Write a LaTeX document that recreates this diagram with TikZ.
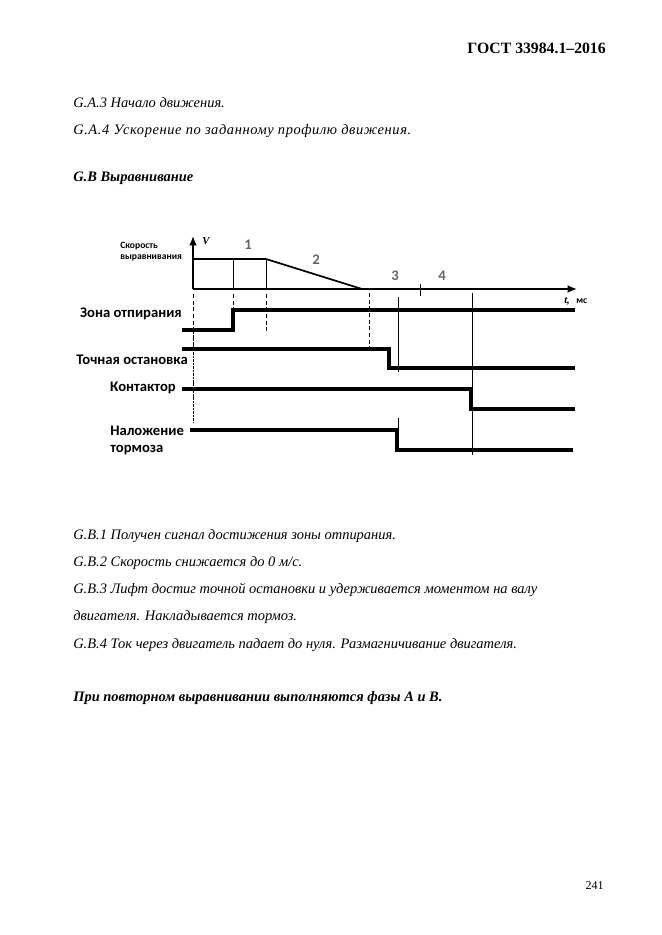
\documentclass[tikz,border=0pt]{standalone}
\usepackage{fontspec}
\setmainfont{Liberation Serif}
\newfontfamily\carl{Carlito}
\usetikzlibrary{arrows.meta}
\tikzset{
  sig/.style={line width=2.4pt},
  thinln/.style={line width=0.6pt},
  axisln/.style={line width=1.4pt},
  vdash/.style={line width=0.6pt, dash pattern=on 3pt off 2pt},
  vdense/.style={line width=0.6pt, dash pattern=on 2pt off 0.6pt},
  lbl/.style={font=\carl\bfseries\fontsize{11}{13}\selectfont, inner sep=0},
  small/.style={font=\carl\bfseries\fontsize{7.2}{8}\selectfont, inner sep=0, anchor=west},
  num/.style={font=\carl\bfseries\fontsize{11}{13}\selectfont, text=black!60, inner sep=0},
  body/.style={font=\itshape\fontsize{10.85}{13}\selectfont, anchor=base west, inner sep=0},
  bodyb/.style={font=\bfseries\itshape\fontsize{10.85}{13}\selectfont, anchor=base west, inner sep=0},
}
\begin{document}
\begin{tikzpicture}[x=0.75pt,y=-0.75pt]
\fill[white] (0,0) rectangle (661,935);
\useasboundingbox (0,0) rectangle (661,935);

% page text
\node[font=\bfseries\fontsize{11.8}{14}\selectfont, anchor=base east, inner sep=0] (hdr) at (606,53) {ГОСТ 33984.1–2016};
\node[body] (ga3) at (73,107) {G.A.3 Начало движения.};
\node[body] (ga4) at (73,134) {\addfontfeature{LetterSpace=4}G.A.4 Ускорение по заданному профилю движения.};
\node[bodyb] (gb) at (73,181) {G.B Выравнивание};
\node[body] (gb1) at (73,539) {G.B.1 Получен сигнал достижения зоны отпирания.};
\node[body] (gb2) at (73,566) {G.B.2 Скорость снижается до 0 м/с.};
\node[body] (gb3) at (73,593) {G.B.3 Лифт достиг точной остановки и удерживается моментом на валу};
\node[body] (gb3b) at (73,620) {двигателя. Накладывается тормоз.};
\node[body] (gb4) at (73,648) {G.B.4 Ток через двигатель падает до нуля. Размагничивание двигателя.};
\node[bodyb] (rep) at (73,701) {При повторном выравнивании выполняются фазы A и B.};
\node[font=\fontsize{9}{11}\selectfont, anchor=base east, inner sep=0] (pg) at (604,889) {241};

% axes
\coordinate (O) at (193,289);
\coordinate (Vtop) at (193,236);
\coordinate (Tend) at (577,289);
\draw[axisln,-{Latex[length=7pt,width=6pt]}] (O) -- (Vtop);
\draw[axisln,-{Latex[length=7pt,width=6pt]}] (O) -- (Tend);
\node[font=\bfseries\itshape\fontsize{8}{9}\selectfont, inner sep=0] (V) at (206,241) {V};
\node[font=\bfseries\itshape\fontsize{8}{9}\selectfont, inner sep=0, anchor=west] (tl) at (564,301) {t,};
\node[small] (ms) at (576,301) {мс};

% speed profile
\coordinate (s0) at (193,259);
\coordinate (s1) at (266,259);
\coordinate (s2) at (362,289);
\coordinate (s3) at (420,289);
\coordinate (s4) at (455,289);
\draw[line width=1.3pt] (s0) -- (s1) -- (s2);
\draw[line width=2pt] (s2) -- (s3);
\draw[line width=1.1pt] (s3) -- (s4);
\draw[thinln] (233,259) -- (233,289);
\draw[thinln] (266,259) -- (266,289);
\draw[thinln] (420,284) -- (420,296);
\node[small] (sk1) at (120,246) {Скорость};
\node[small] (sk2) at (120,258) {выравнивания};
\node[num] (n1) at (248,245) {1};
\node[num] (n2) at (316,260) {2};
\node[num] (n3) at (395,276) {3};
\node[num] (n4) at (442,276) {4};

% vertical markers
\draw[vdash] (193,294) -- (193,328);
\draw[vdense] (193,328) -- (193,422);
\draw[vdash] (233,294) -- (233,310);
\draw[vdash] (266,294) -- (266,331);
\draw[vdash] (369,293) -- (369,348);
\draw[thinln] (398,297) -- (398,372);
\draw[thinln] (398,418) -- (398,430);
\draw[thinln] (472,293) -- (472,455);

% signals
\draw[sig] (182,330) -- (233,330) -- (233,310) -- (575,310);
\draw[sig] (182,349) -- (389,349) -- (389,368) -- (575,368);
\draw[sig] (182,389) -- (471,389) -- (471,409) -- (575,409);
\draw[sig] (190,430) -- (397,430) -- (397,450) -- (573,450);

\node[lbl, anchor=east] (zo) at (182,314) {Зона отпирания};
\node[lbl, anchor=east] (to) at (188,360) {Точная остановка};
\node[lbl, anchor=east] (ko) at (176,388) {Контактор};
\node[lbl, anchor=west] (nt1) at (110,431) {Наложение};
\node[lbl, anchor=west] (nt2) at (110,450) {тормоза};
\end{tikzpicture}
\end{document}
